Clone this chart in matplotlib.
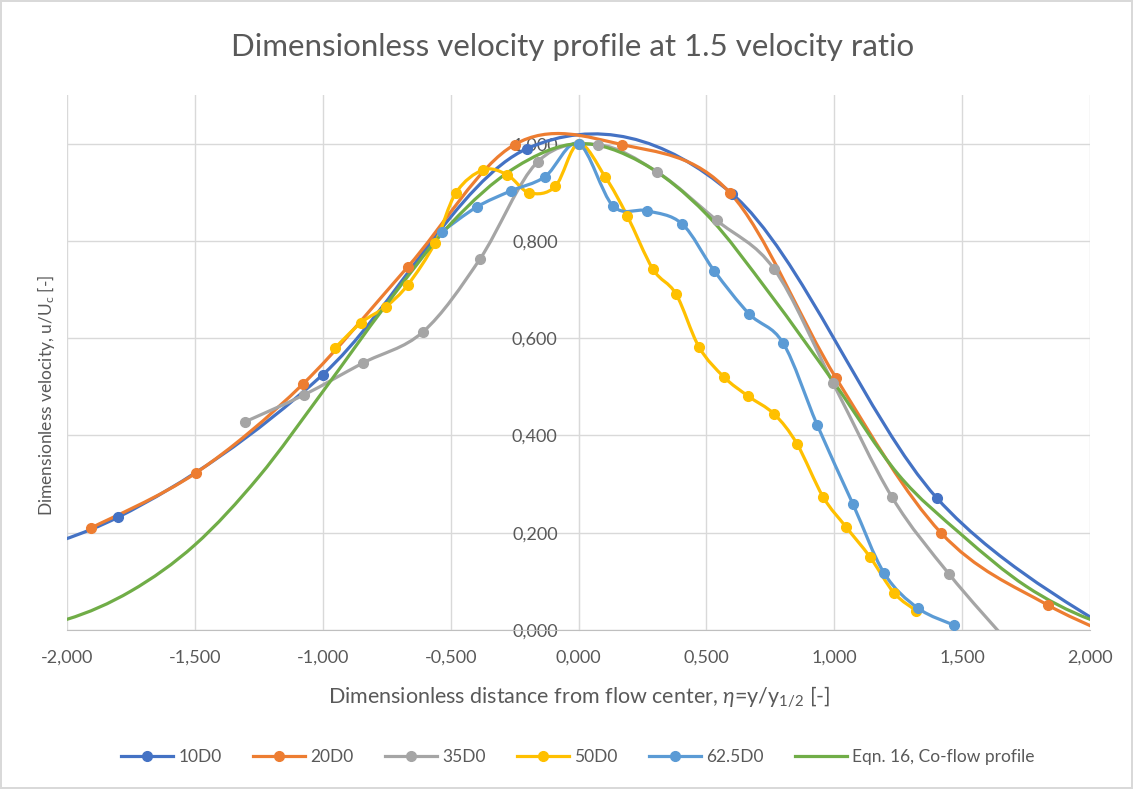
import numpy as np
import matplotlib.pyplot as plt
from matplotlib.path import Path
from matplotlib.patches import PathPatch
from matplotlib.lines import Line2D
from matplotlib.ticker import FuncFormatter

plt.rcParams['font.family'] = ['Lato', 'DejaVu Sans']
plt.rcParams['mathtext.fontset'] = 'custom'
plt.rcParams['mathtext.rm'] = 'Lato'
plt.rcParams['mathtext.it'] = 'Lato:italic'

# measured profiles, eta vs u/Uc
x_10 = [-2.6, -1.8, -1.0, -0.2, 0.6, 1.4, 2.2]
y_10 = [0.10, 0.232, 0.525, 0.99, 0.897, 0.272, -0.04]

x_20 = [-1.905, -1.496, -1.077, -0.667, -0.25, 0.17, 0.592, 1.007, 1.417, 1.836, 2.25]
y_20 = [0.21, 0.323, 0.506, 0.747, 0.998, 0.998, 0.899, 0.518, 0.20, 0.051, -0.045]

x_35 = [-1.304, -1.075, -0.843, -0.608, -0.385, -0.159, 0.075, 0.307, 0.541, 0.765, 0.995, 1.226, 1.449, 1.68]
y_35 = [0.428, 0.483, 0.549, 0.613, 0.763, 0.963, 0.998, 0.942, 0.842, 0.742, 0.508, 0.273, 0.115, -0.025]

x_50 = [-0.952, -0.850, -0.753, -0.667, -0.561, -0.479, -0.373, -0.279, -0.193, -0.091, 0.0,
        0.104, 0.190, 0.291, 0.381, 0.471, 0.569, 0.663, 0.765, 0.854, 0.956, 1.046, 1.140, 1.234, 1.32]
y_50 = [0.58, 0.632, 0.665, 0.710, 0.796, 0.899, 0.946, 0.936, 0.899, 0.912, 1.0,
        0.932, 0.852, 0.742, 0.691, 0.582, 0.520, 0.481, 0.444, 0.383, 0.274, 0.212, 0.150, 0.076, 0.04]

x_625 = [-0.534, -0.397, -0.264, -0.131, 0.0, 0.135, 0.268, 0.405, 0.530, 0.667, 0.800, 0.933, 1.073, 1.195, 1.327, 1.468]
y_625 = [0.819, 0.870, 0.903, 0.932, 1.0, 0.872, 0.862, 0.835, 0.739, 0.650, 0.590, 0.422, 0.259, 0.117, 0.045, 0.010]

# Eqn. 16 co-flow profile
x_eq = [-2.25, -2.0, -1.75, -1.5, -1.25, -1.0, -0.75, -0.5, -0.25, 0.0, 0.25, 0.5, 0.75, 1.0, 1.25, 1.5, 1.75, 2.0, 2.25]
y_eq = [0.0, 0.022, 0.08, 0.175, 0.315, 0.49, 0.67, 0.835, 0.95, 1.0, 0.96, 0.855, 0.69, 0.508, 0.32, 0.195, 0.09, 0.022, -0.01]

labels = ['10D0', '20D0', '35D0', '50D0', '62.5D0', 'Eqn. 16, Co-flow profile']
colors = ['#4472C4', '#ED7D31', '#A5A5A5', '#FFC000', '#5B9BD5', '#70AD47']

x_ticks = [-2.0, -1.5, -1.0, -0.5, 0.0, 0.5, 1.0, 1.5, 2.0]
y_ticks = [0.0, 0.2, 0.4, 0.6, 0.8, 1.0]

txt = '#595959'


def smooth_path(xs, ys):
    # excel style smoothed line (catmull-rom as cubic bezier)
    p = np.column_stack([xs, ys])
    n = len(p)
    verts = [p[0]]
    codes = [Path.MOVETO]
    for i in range(n - 1):
        p0 = p[i - 1] if i > 0 else p[i]
        p3 = p[i + 2] if i + 2 < n else p[i + 1]
        verts += [p[i] + (p[i + 1] - p0) / 6, p[i + 1] - (p3 - p[i]) / 6, p[i + 1]]
        codes += [Path.CURVE4] * 3
    return Path(verts, codes)


def draw_series(ax, xs, ys, color, markers=True):
    ax.add_patch(PathPatch(smooth_path(xs, ys), facecolor='none', edgecolor=color,
                           lw=2.3, capstyle='round', joinstyle='round', zorder=3))
    if markers:
        ax.plot(xs, ys, 'o', color=color, ms=7, zorder=4)


fig = plt.figure(figsize=(11.33, 7.89), dpi=100)
fig.patch.set_edgecolor('#D9D9D9')
fig.patch.set_linewidth(1.5)
ax = fig.add_axes([67 / 1133, 1 - 630 / 789, 1023 / 1133, 535 / 789])

series = [(x_10, y_10), (x_20, y_20), (x_35, y_35), (x_50, y_50), (x_625, y_625)]
for (xs, ys), c in zip(series, colors):
    draw_series(ax, xs, ys, c)
draw_series(ax, x_eq, y_eq, colors[5], markers=False)

ax.set_xlim(-2, 2)
ax.set_ylim(0, 1.1)
ax.set_xticks(x_ticks)
ax.set_yticks(y_ticks)
fmt = FuncFormatter(lambda v, p: '{:.3f}'.format(v).replace('.', ','))
ax.xaxis.set_major_formatter(fmt)
ax.yaxis.set_major_formatter(fmt)
ax.grid(True, color='#D9D9D9', lw=1)
ax.set_axisbelow(True)
ax.spines['left'].set_position(('data', 0))
ax.spines['left'].set_color('#D9D9D9')
ax.spines['bottom'].set_color('#BFBFBF')
ax.spines['top'].set_visible(False)
ax.spines['right'].set_visible(False)
ax.tick_params(length=0, labelsize=13, labelcolor=txt)
ax.tick_params(axis='x', pad=14)
ax.tick_params(axis='y', pad=15)

fig.text(573 / 1133, 1 - 47 / 789, 'Dimensionless velocity profile at 1.5 velocity ratio',
         ha='center', va='center', fontsize=22.5, color=txt)
fig.text(579 / 1133, 1 - 697 / 789,
         'Dimensionless distance from flow center, $\\eta$=y/y$_{\\mathrm{1/2}}$ [-]',
         ha='center', va='center', fontsize=15.5, color=txt)
fig.text(46 / 1133, 1 - 395 / 789, 'Dimensionless velocity, u/U$_{\\mathrm{c}}$ [-]',
         ha='center', va='center', rotation=90, fontsize=12.5, color=txt)

handles = []
for i, lab in enumerate(labels):
    mk = 'o' if i < 5 else None
    handles.append(Line2D([], [], color=colors[i], lw=2.3, marker=mk, ms=7))
fig.legend(handles, labels, loc='center', bbox_to_anchor=(578 / 1133, 1 - 757 / 789), ncol=6,
           frameon=False, fontsize=12.5, handlelength=3, handletextpad=0.3, columnspacing=1.8,
           labelcolor=txt)

plt.savefig('out.png', dpi=100, edgecolor=fig.get_edgecolor())
